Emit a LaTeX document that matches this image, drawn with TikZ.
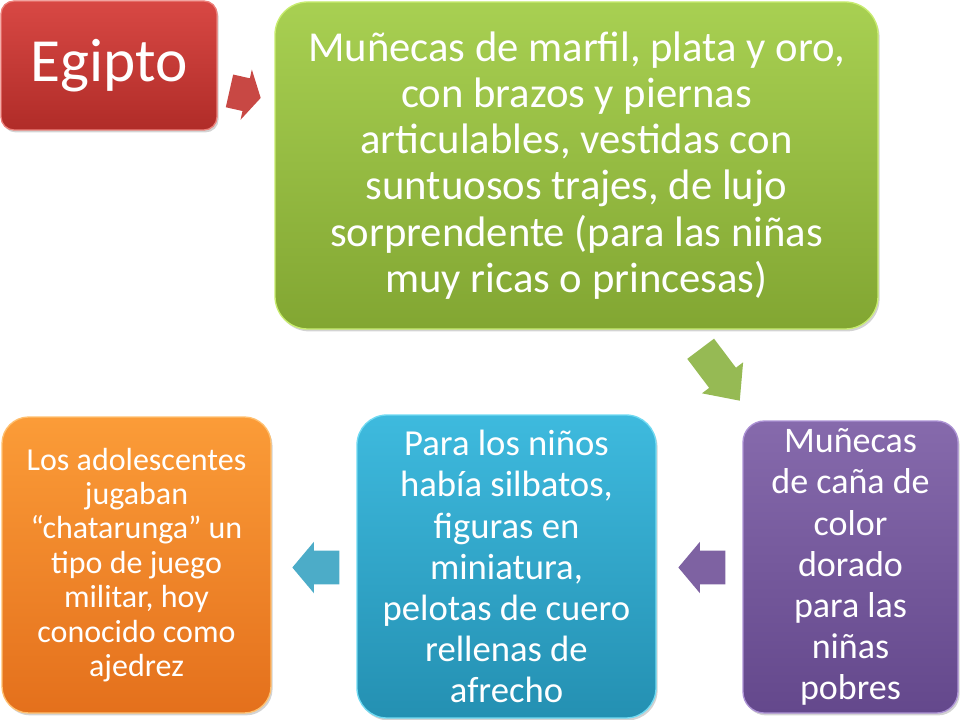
\documentclass[tikz,border=0pt]{standalone}
\usepackage{fontspec}
\setmainfont{Carlito}
\usetikzlibrary{shapes.arrows, shadows}

\definecolor{rojoA}{RGB}{216,72,68}
\definecolor{rojoB}{RGB}{176,44,40}
\definecolor{rojoC}{RGB}{236,128,122}
\definecolor{rojoF}{RGB}{200,72,68}
\definecolor{verdeA}{RGB}{168,208,82}
\definecolor{verdeB}{RGB}{130,166,50}
\definecolor{verdeC}{RGB}{200,236,112}
\definecolor{verdeF}{RGB}{150,186,84}
\definecolor{moradoA}{RGB}{134,106,172}
\definecolor{moradoB}{RGB}{100,72,140}
\definecolor{moradoC}{RGB}{172,146,212}
\definecolor{moradoF}{RGB}{126,98,162}
\definecolor{cianA}{RGB}{62,186,222}
\definecolor{cianB}{RGB}{36,144,178}
\definecolor{cianC}{RGB}{112,218,242}
\definecolor{cianF}{RGB}{76,172,200}
\definecolor{naranjaA}{RGB}{251,156,56}
\definecolor{naranjaB}{RGB}{228,112,28}
\definecolor{naranjaC}{RGB}{255,192,112}

\begin{document}
\begin{tikzpicture}[
x = 0.75pt, y = -0.75pt,
caja/.style = {rectangle, inner sep=2pt, align=center, text=white,
               line width=1pt,
               drop shadow={shadow xshift=1.2pt, shadow yshift=-1.8pt,
                            opacity=.35}},
rojo/.style    = {top color=rojoA, bottom color=rojoB, draw=rojoC},
verde/.style   = {top color=verdeA, bottom color=verdeB, draw=verdeC},
morado/.style  = {top color=moradoA, bottom color=moradoB, draw=moradoC},
cian/.style    = {top color=cianA, bottom color=cianB, draw=cianC},
naranja/.style = {top color=naranjaA, bottom color=naranjaB, draw=naranjaC},
flecha/.style = {single arrow, anchor=tip, inner xsep=0pt, inner ysep=12.375pt,
                 single arrow head extend=6.75pt,
                 single arrow tip angle=100},
                    ]
\useasboundingbox (0,0) rectangle (960,720);
%
\node[caja, rojo, minimum width=162pt, minimum height=96.75pt,
      rounded corners=9.75pt, font=\fontsize{46}{50}\selectfont]
      (Eg) at (109,65.5) {Egipto};
\node[caja, verde, minimum width=452.25pt, minimum height=245.25pt,
      rounded corners=24.5pt, font=\fontsize{32}{34.6}\selectfont]
      (Mu) at (576.5,165.5) {Muñecas de marfil, plata y oro,\\
                             con brazos y piernas\\
                             articulables, vestidas con\\
                             suntuosos trajes, de lujo\\
                             sorprendente (para las niñas\\
                             muy ricas o princesas)};
\node[caja, morado, minimum width=161.25pt, minimum height=219pt,
      rounded corners=16pt, font=\fontsize{27}{30.8}\selectfont]
      (Po) at (850.5,567) {Muñecas\\ de caña de\\ color\\ dorado\\
                           para las\\ niñas\\ pobres};
\node[caja, cian, minimum width=224.25pt, minimum height=227.25pt,
      rounded corners=22.5pt, font=\fontsize{27.5}{30.8}\selectfont]
      (Ni) at (506.5,566.5) {Para los niños\\ había silbatos,\\ figuras en\\
                             miniatura,\\ pelotas de cuero\\ rellenas de\\
                             afrecho};
\node[caja, naranja, minimum width=201.75pt, minimum height=222pt,
      rounded corners=20pt, font=\fontsize{24}{25.8}\selectfont]
      (Ad) at (136.5,565) {Los adolescentes\\ jugaban\\ “chatarunga” un\\
                           tipo de juego\\ militar, hoy\\ conocido como\\
                           ajedrez};
%
\node[flecha, fill=rojoF, minimum height=24pt,
      single arrow tip angle=120, rotate=-12.7] (f1) at (261,98) {};
\node[flecha, fill=verdeF, minimum height=48.75pt,
      single arrow tip angle=84, rotate=-53] (f2) at (740,401) {};
\node[flecha, fill=moradoF, minimum height=35.25pt,
      rotate=180] (f3) at (678,567.5) {};
\node[flecha, fill=cianF, minimum height=35.25pt,
      rotate=180] (f4) at (292,567.5) {};
%
\end{tikzpicture}
\end{document}
